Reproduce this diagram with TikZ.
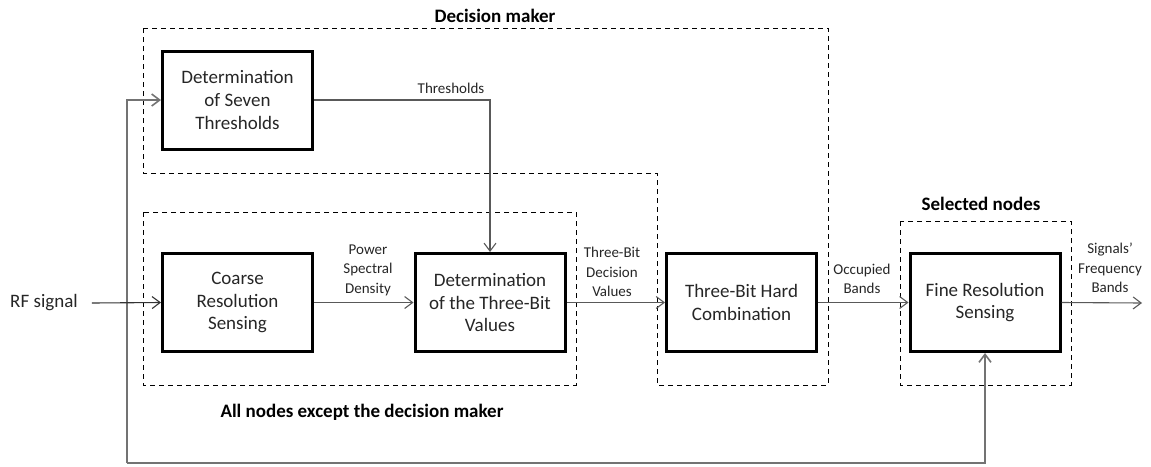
\documentclass[tikz,border=0pt]{standalone}
\usepackage{fontspec}
\setmainfont{Carlito}
\usetikzlibrary{arrows.meta}
\begin{document}
\begin{tikzpicture}[x=1pt,y=-1pt,
 blockbox/.style={draw=black,line width=3pt,minimum width=150pt,minimum height=98pt,inner sep=0pt,align=center,font=\fontsize{19}{22.7}\selectfont,text=black!85},
 grp/.style={draw=black,line width=0.9pt,dash pattern=on 5pt off 4pt},
 lbl/.style={align=center,font=\fontsize{15}{19.5}\selectfont,text=black!85,inner sep=0pt},
 grptitle/.style={font=\bfseries\fontsize{19}{22}\selectfont,inner sep=0pt},
 conn/.style={draw=black!65,line width=1.1pt,-{Straight Barb[length=8pt,width=12pt]}},
 fbline/.style={draw=black!55,line width=1.6pt,-{Straight Barb[length=8pt,width=12pt]}},
]
\useasboundingbox (0,0) rectangle (1151,466);

% groups
\draw[grp] (143,28) -- (828,28) -- (828,385) -- (657,385) -- (657,173) -- (143,173) -- cycle;
\draw[grp] (143,212) rectangle (576,385);
\draw[grp] (900,221) rectangle (1071,385);

% group titles
\node[grptitle] (tdm) at (495,16) {Decision maker};
\node[grptitle] (tall) at (362,412) {All nodes except the decision maker};
\node[grptitle] (tsel) at (981,204) {Selected nodes};

% blocks
\node[blockbox] (seven) at (237.5,100) {Determination\\of Seven\\Thresholds};
\node[blockbox] (coarse) at (237.5,302.5) {Coarse\\Resolution\\Sensing};
\node[blockbox] (detbits) at (490,302.5) {Determination\\of the Three-Bit\\Values};
\node[blockbox] (hard) at (741.5,302.5) {Three-Bit Hard\\Combination};
\node[blockbox] (fine) at (985,302.5) {Fine Resolution\\Sensing};

% input / output
\node[font=\fontsize{19}{22}\selectfont,text=black!85,inner sep=0pt] (rf) at (44,303) {RF signal};
\coordinate (out) at (1142,303);
\coordinate (fbc) at (127,463);

% connector labels
\node[lbl] (lthr) at (451,88) {Thresholds};
\node[lbl] (lpsd) at (368,270) {Power\\Spectral\\Density};
\node[lbl] (ltbd) at (612,272) {Three-Bit\\Decision\\Values};
\node[lbl] (locc) at (862,279) {Occupied\\Bands};
\node[lbl] (lsig) at (1110,268) {Signals’\\Frequency\\Bands};

% connectors
\draw[fbline] (fbc) |- (seven.west);
\draw[fbline] (fbc) -| (fine.south);
\draw[conn,draw=black!80] (rf.east) ++(14,0) -- (coarse.west);
\draw[conn] (seven.east) -| (detbits.north);
\draw[conn] (coarse.east) -- (detbits.west);
\draw[conn] (detbits.east) -- (hard.west);
\draw[conn] (hard.east) -- (fine.west);
\draw[conn] (fine.east) -- (out);
\end{tikzpicture}
\end{document}
